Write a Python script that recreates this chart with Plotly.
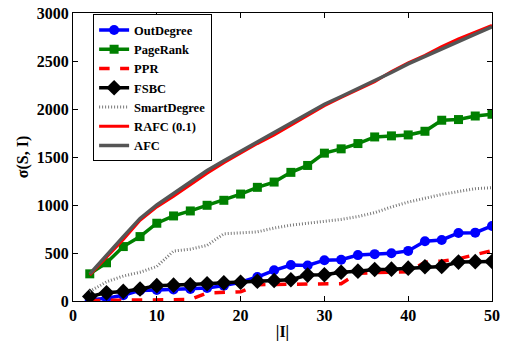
import plotly.graph_objects as go

x_vals = list(range(2, 51, 2))

out_degree = [10, 30, 60, 110, 115, 120, 125, 135, 160, 195, 250, 320, 375, 370, 425, 430,
              478, 488, 498, 522, 623, 636, 709, 712, 782]
page_rank = [283, 398, 567, 671, 810, 886, 938, 997, 1049, 1114, 1184, 1239, 1340, 1412, 1540,
             1585, 1640, 1709, 1720, 1730, 1768, 1883, 1890, 1927, 1945]
ppr = [5, 8, 10, 10, 10, 12, 15, 85, 90, 95, 170, 172, 178, 180, 180, 180, 290, 292, 298, 305,
       405, 415, 440, 485, 525]
fsbc = [48, 85, 100, 125, 160, 165, 168, 180, 190, 195, 205, 214, 221, 270, 273, 300, 311, 328,
        332, 342, 356, 359, 405, 410, 411]
smart_degree = [100, 200, 260, 300, 360, 520, 540, 580, 700, 710, 720, 760, 790, 810, 830, 850,
                880, 920, 980, 1030, 1070, 1110, 1140, 1170, 1180]
rafc = [270, 450, 640, 840, 980, 1090, 1210, 1330, 1440, 1540, 1640, 1730, 1830, 1935, 2035,
        2120, 2200, 2285, 2390, 2480, 2560, 2650, 2730, 2800, 2870]
afc = [283, 480, 670, 860, 1000, 1120, 1240, 1360, 1460, 1560, 1660, 1750, 1850, 1950, 2050,
       2130, 2210, 2290, 2380, 2470, 2550, 2630, 2710, 2780, 2855]

x_ticks = [0, 10, 20, 30, 40, 50]
y_ticks = [0, 500, 1000, 1500, 2000, 2500, 3000]

fig = go.Figure()
fig.add_trace(go.Scatter(x=x_vals, y=out_degree, name="OutDegree", mode="lines+markers",
                         line=dict(color="#0000ff", width=3.5),
                         marker=dict(symbol="circle", size=10, color="#0000ff")))
fig.add_trace(go.Scatter(x=x_vals, y=page_rank, name="PageRank", mode="lines+markers",
                         line=dict(color="#008000", width=3.5),
                         marker=dict(symbol="square", size=9, color="#008000")))
fig.add_trace(go.Scatter(x=x_vals, y=ppr, name="PPR", mode="lines",
                         line=dict(color="#ff0000", width=3.5, dash="dash")))
fig.add_trace(go.Scatter(x=x_vals, y=fsbc, name="FSBC", mode="lines+markers",
                         line=dict(color="#000000", width=3.5),
                         marker=dict(symbol="diamond", size=12, color="#000000")))
fig.add_trace(go.Scatter(x=x_vals, y=smart_degree, name="SmartDegree", mode="lines",
                         line=dict(color="#7a7a7a", width=3, dash="1px,2px")))
fig.add_trace(go.Scatter(x=x_vals, y=rafc, name="RAFC (0.1)", mode="lines",
                         line=dict(color="#ff0000", width=3)))
fig.add_trace(go.Scatter(x=x_vals, y=afc, name="AFC", mode="lines",
                         line=dict(color="#555555", width=3.5)))

axis_font = dict(family="Liberation Serif", size=16, color="black")
fig.update_layout(
    width=505, height=341,
    margin=dict(l=73, r=13, t=13, b=40, autoexpand=False),
    paper_bgcolor="white", plot_bgcolor="white",
    font=dict(family="Liberation Serif", size=16, color="black"),
    showlegend=True,
    legend=dict(x=0.048, y=0.995, xanchor="left", yanchor="top",
                bgcolor="white", bordercolor="black", borderwidth=1,
                font=dict(family="Liberation Serif", size=12.5, color="black"),
                tracegroupgap=0, itemwidth=30),
    xaxis=dict(range=[0, 50], tickvals=x_ticks, ticktext=[f"<b>{t}</b>" for t in x_ticks],
               automargin=False,
               showgrid=False, zeroline=False, showline=True, linecolor="black", linewidth=1,
               mirror="ticks", ticks="inside", ticklen=5, tickcolor="black",
               tickfont=axis_font,
               title=dict(text="<b>|I|</b>", font=axis_font, standoff=2)),
    yaxis=dict(range=[0, 3000], tickvals=y_ticks, ticktext=[f"<b>{t}</b>" for t in y_ticks],
               automargin=False,
               showgrid=False, zeroline=False, showline=True, linecolor="black", linewidth=1,
               mirror="ticks", ticks="inside", ticklen=5, tickcolor="black",
               tickfont=axis_font,
               title=dict(text="<b>σ(S, I)</b>", font=axis_font, standoff=4)),
)
for tr in fig.data:
    tr.name = f"<b>{tr.name}</b>"

# remove the default 8px page margin so the figure fills the window exactly
fig.write_html("out.html", config={"displayModeBar": False},
               post_script="document.body.style.margin='0px';")
